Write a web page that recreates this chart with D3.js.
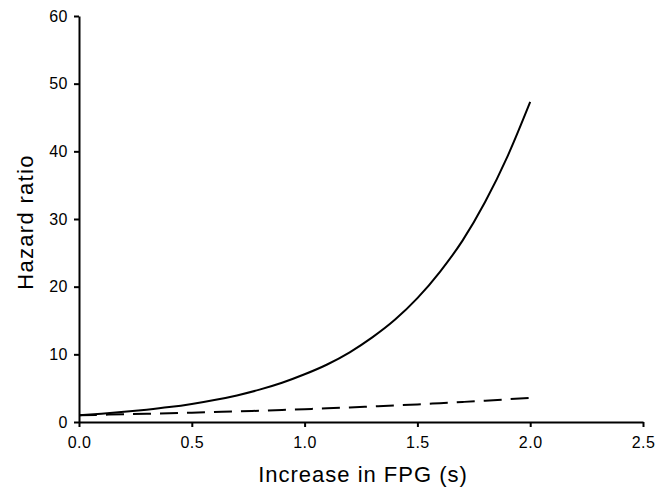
<!DOCTYPE html>
<html>
<head>
<meta charset="utf-8">
<script src="https://cdn.jsdelivr.net/npm/d3@7"></script>
<style>
  html, body { margin: 0; padding: 0; background: #fff; }
  svg { display: block; }
  text { font-family: "Liberation Sans", Arial, Helvetica, sans-serif; fill: #000; }
</style>
</head>
<body>
<svg id="chart" width="666" height="487"></svg>
<script>
// Increase in FPG (s)
const fpg = [0.0, 0.1, 0.2, 0.3, 0.4, 0.5, 0.6, 0.7, 0.8, 0.9, 1.0,
             1.1, 1.2, 1.3, 1.4, 1.5, 1.6, 1.7, 1.8, 1.9, 2.0];
// Hazard ratio, solid curve
const hrSolid = [1.0, 1.22, 1.5, 1.82, 2.2, 2.67, 3.24, 3.93, 4.78, 5.8, 7.05,
                 8.5, 10.3, 12.5, 15.1, 18.3, 22.2, 26.8, 32.5, 39.3, 47.3];
// Hazard ratio, dashed line
const hrDashed = [1.0, 1.07, 1.14, 1.21, 1.29, 1.38, 1.47, 1.56, 1.67, 1.78, 1.9,
                  2.02, 2.15, 2.3, 2.45, 2.6, 2.78, 2.96, 3.15, 3.36, 3.58];

const xTicks = [0, 0.5, 1.0, 1.5, 2.0, 2.5];
const yTicks = [0, 10, 20, 30, 40, 50, 60];

const svg = d3.select("#chart");
const margin = { left: 79, right: 23, top: 16, bottom: 65 };
const W = 666, H = 487;

const x = d3.scaleLinear().domain([0, 2.5]).range([margin.left, W - margin.right]);
const y = d3.scaleLinear().domain([0, 60]).range([H - margin.bottom, margin.top]);

// axes
const xAxis = svg.append("g")
  .attr("transform", `translate(0,${y(0)})`)
  .call(d3.axisBottom(x).tickValues(xTicks).tickFormat(d3.format(".1f")).tickSize(5).tickSizeOuter(0));
const yAxis = svg.append("g")
  .attr("transform", `translate(${x(0)},0)`)
  .call(d3.axisLeft(y).tickValues(yTicks).tickFormat(d3.format("d")).tickSize(5).tickSizeOuter(0));

[xAxis, yAxis].forEach(g => {
  g.select(".domain").attr("stroke", "#000").attr("stroke-width", 2);
  g.selectAll(".tick line").attr("stroke", "#000").attr("stroke-width", 2);
  g.selectAll(".tick text")
    .style("font-size", "16px")
    .style("letter-spacing", "0.5px")
    .attr("fill", "#000");
});
xAxis.selectAll(".tick text").attr("dy", "1.15em");
yAxis.selectAll(".tick text").attr("x", -11);

// curves
const line = d3.line().x((d, i) => x(fpg[i])).y(d => y(d)).curve(d3.curveMonotoneX);

svg.append("path")
  .attr("d", line(hrDashed))
  .attr("fill", "none")
  .attr("stroke", "#000")
  .attr("stroke-width", 2)
  .attr("stroke-dasharray", "18,9");

svg.append("path")
  .attr("d", line(hrSolid))
  .attr("fill", "none")
  .attr("stroke", "#000")
  .attr("stroke-width", 2);

// axis titles
svg.append("text")
  .attr("x", (x(0) + x(2.5)) / 2 + 2)
  .attr("y", 482)
  .attr("text-anchor", "middle")
  .style("font-size", "22px")
  .style("letter-spacing", "1px")
  .text("Increase in FPG (s)");

svg.append("text")
  .attr("transform", `translate(33,222) rotate(-90)`)
  .attr("text-anchor", "middle")
  .style("font-size", "22px")
  .style("letter-spacing", "1.3px")
  .text("Hazard ratio");
</script>
</body>
</html>
